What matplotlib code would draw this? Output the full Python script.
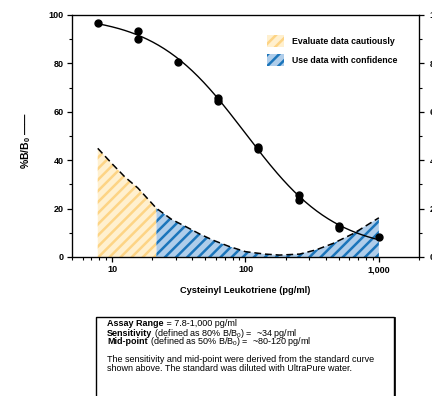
import numpy as np
import matplotlib
matplotlib.use("Agg")
import matplotlib.pyplot as plt
from matplotlib.patches import Patch, Rectangle
from matplotlib.ticker import FixedLocator, FuncFormatter

# ---- data ----
conc = [7.8, 15.6, 15.6, 31.25, 62.5, 62.5, 125, 125, 250, 250, 500, 500, 1000]
bb0 = [96.6, 93.3, 90.1, 80.4, 65.6, 64.6, 45.6, 44.8, 25.6, 23.6, 12.9, 11.8, 8.2]

# precision profile (dashed line)
cv_conc = [7.8, 10, 12.5, 15.6, 21.5, 28, 35.8, 45, 56.8, 75, 100, 140, 180, 255, 340, 453, 650, 1000]
cv_vals = [44.9, 38.5, 33.0, 28.5, 20.1, 15.5, 12.5, 9.6, 7.0, 4.4, 2.2, 1.2, 0.8, 1.2, 3.0, 5.6, 9.8, 16.2]
cv_split = 21.5

legend_labels = ["Evaluate data cautiously", "Use data with confidence"]
y_ticks = [0, 20, 40, 60, 80, 100]
x_ticks = [10, 100, 1000]
x_tick_labels = ["10", "100", "1,000"]

info_lines = [
    ("Assay Range", " = 7.8-1,000 pg/ml"),
    ("Sensitivity", r" (defined as 80% B/B$_0$) =  ~34 pg/ml"),
    ("Mid-point", r" (defined as 50% B/B$_0$) =  ~80-120 pg/ml"),
    ("", "The sensitivity and mid-point were derived from the standard curve"),
    ("", "shown above. The standard was diluted with UltraPure water."),
]

# ---- style ----
plt.rcParams["font.family"] = ["Liberation Sans", "DejaVu Sans"]
plt.rcParams["mathtext.fontset"] = "custom"
plt.rcParams["mathtext.rm"] = "Liberation Sans"
plt.rcParams["mathtext.bf"] = "Liberation Sans:bold"
plt.rcParams["mathtext.it"] = "Liberation Sans:italic"
plt.rcParams["mathtext.sf"] = "Liberation Sans"
plt.rcParams["hatch.linewidth"] = 1.8

yel_bg, yel_hatch = "#FFF0CF", "#FDD485"
blu_bg, blu_hatch = "#AFCDEA", "#1B75BB"

fig = plt.figure(figsize=(4.32, 3.96), dpi=100)
ax = fig.add_axes([72 / 432, 1 - 257 / 396, 347 / 432, 242 / 396])

# precision profile fills
cx = np.array(cv_conc)
cy = np.array(cv_vals)
m1 = cx <= cv_split
m2 = cx >= cv_split
ax.fill_between(cx[m1], 0, cy[m1], facecolor=yel_bg, edgecolor=yel_hatch, hatch="///", linewidth=0, zorder=1)
ax.fill_between(cx[m2], 0, cy[m2], facecolor=blu_bg, edgecolor=blu_hatch, hatch="///", linewidth=0, zorder=1)
ax.plot(cx, cy, color="black", ls=(0, (4.5, 2.5)), lw=1.1, zorder=2)

# standard curve: 4PL (log-logit) fit of the standards, top/bottom by grid search
x_arr = np.array(conc)
y_arr = np.array(bb0)
best = None
for top in np.arange(97.0, 103.01, 0.25):
    for bot in np.arange(-4.0, 7.9, 0.25):
        z = (y_arr - bot) / (top - y_arr)
        if np.any(z <= 0):
            continue
        b, a = np.polyfit(np.log(x_arr), np.log(z), 1)
        pred = bot + (top - bot) / (1 + np.exp(-(a + b * np.log(x_arr))))
        err = np.sum((pred - y_arr) ** 2)
        if best is None or err < best[0]:
            best = (err, top, bot, a, b)
_, top, bot, a, b = best
xs = np.geomspace(min(conc), max(conc), 200)
ys = bot + (top - bot) / (1 + np.exp(-(a + b * np.log(xs))))
ax.plot(xs, ys, color="black", lw=1.0, zorder=3)
ax.plot(conc, bb0, "o", color="black", ms=5, zorder=4)

# axes
ax.set_xscale("log")
ax.set_xlim(5, 2000)
ax.set_ylim(0, 100)
ax.xaxis.set_major_locator(FixedLocator(x_ticks))
ax.xaxis.set_major_formatter(FuncFormatter(lambda v, p: x_tick_labels[x_ticks.index(int(round(v)))] if int(round(v)) in x_ticks else ""))
ax.set_yticks(y_ticks)
ax.set_yticks(range(10, 100, 20), minor=True)
ax.tick_params(which="major", direction="out", length=3.5, width=0.9, labelsize=6.5, pad=2.5)
ax.tick_params(which="minor", direction="out", length=2.5, width=0.8)
for lab in ax.get_xticklabels() + ax.get_yticklabels():
    lab.set_fontweight("bold")
for s in ax.spines.values():
    s.set_linewidth(0.9)

ax2 = ax.twinx()
ax2.set_ylim(0, 100)
ax2.set_yticks(y_ticks)
ax2.set_yticks(range(10, 100, 20), minor=True)
ax2.tick_params(which="major", direction="out", length=3.5, width=0.9, labelsize=6.5, pad=4)
ax2.tick_params(which="minor", direction="out", length=2.5, width=0.8)
for lab in ax2.get_yticklabels():
    lab.set_fontweight("bold")

ax.set_xlabel("Cysteinyl Leukotriene (pg/ml)", fontsize=6.7, fontweight="bold")
ax.xaxis.set_label_coords(0.5, -0.118)
ax.set_ylabel(r"$\bf{\%B/B_0}$ ——", fontsize=7.5, fontweight="bold")
ax.yaxis.set_label_coords(-0.112, 0.48)

handles = [
    Patch(facecolor=yel_bg, edgecolor=yel_hatch, hatch="///", linewidth=0),
    Patch(facecolor=blu_bg, edgecolor=blu_hatch, hatch="///", linewidth=0),
]
ax.legend(handles, legend_labels, loc="upper left", bbox_to_anchor=((262.5 - 72) / 347, (257 - 30.7) / 242),
          frameon=False, borderpad=0, handlelength=1.9, handleheight=1.8,
          labelspacing=0.75, handletextpad=1.0, prop={"weight": "bold", "size": 6.3})

# info box below the chart
fig.patches.append(Rectangle((96 / 432, -0.05), (394 - 96) / 432, (396 - 317) / 396 + 0.05,
                             transform=fig.transFigure, fill=False, edgecolor="black", lw=1.0))
fig.patches.append(Rectangle((96 / 432, -0.05), (394.6 - 96) / 432, (396 - 317) / 396 + 0.05,
                             transform=fig.transFigure, fill=False, edgecolor="black", lw=0.6))
renderer = fig.canvas.get_renderer()
tx = 107 / 432
ypos = [326.5, 335.5, 344.5, 362, 371]
for (bold, rest), ypx in zip(info_lines, ypos):
    yf = 1 - ypx / 396
    x0 = tx
    if bold:
        t = fig.text(x0, yf, bold, fontsize=6.5, fontweight="bold", va="baseline", ha="left")
        bb = t.get_window_extent(renderer)
        x0 = bb.x1 / fig.bbox.width
    fig.text(x0, yf, rest, fontsize=6.5, va="baseline", ha="left")

fig.savefig("out.png", dpi=100)
